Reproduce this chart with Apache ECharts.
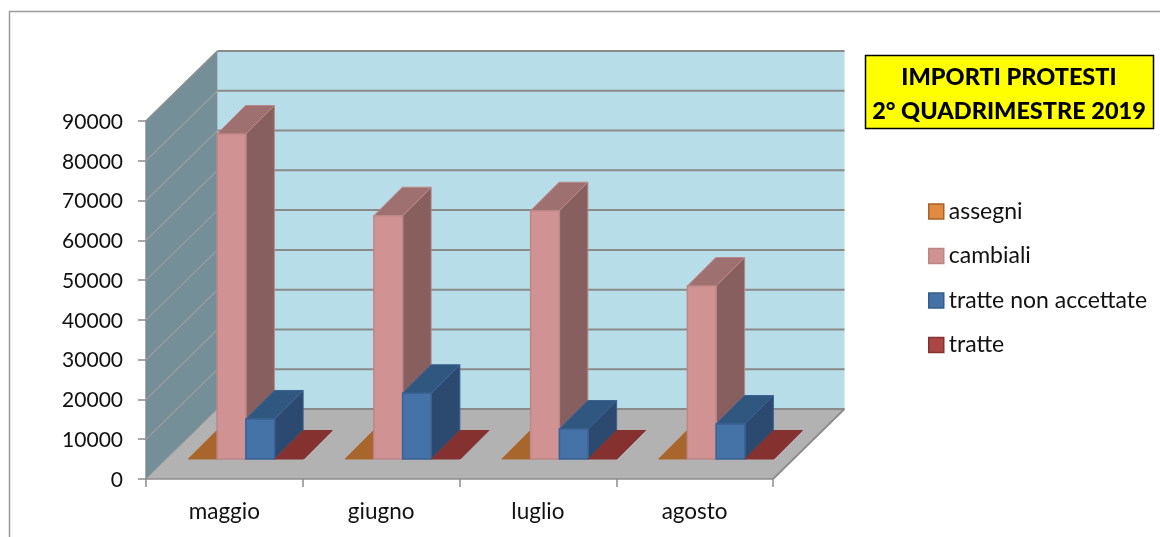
<!DOCTYPE html>
<html><head><meta charset="utf-8">
<style>html,body{margin:0;padding:0;background:#fff}#c{width:1160px;height:537px}</style>
<script src="https://cdn.jsdelivr.net/npm/echarts@6/dist/echarts.min.js"></script></head>
<body><div id="c"></div>
<script>
var categories = ['maggio','giugno','luglio','agosto'];
var assegni = [0,0,0,0];
var cambiali = [81700,61160,62420,43490];
var tratteNonAccettate = [10060,16520,7540,8790];
var tratte = [0,0,0,0];
var axisTicks = [0,10000,20000,30000,40000,50000,60000,70000,80000,90000];
var seriesNames = ['assegni','cambiali','tratte non accettate','tratte'];

var FONT = 'Lato';
var WALL_DX = 71.5, WALL_DY = -70, BAR_OFF_X = 21.5, BAR_OFF_Y = -20, BAR_DEPTH = 28.5;
var styles = [
 {front:'#c77a35',top:'#a9662c',side:'#8a5224',stroke:'#a9662c',legend:'#e08a42',legendB:'#a9622a'},
 {front:'#d09293',top:'#9f7070',side:'#875f5e',stroke:'#bd8787',legend:'#d09293',legendB:'#bd8787'},
 {front:'#4572a7',top:'#30577f',side:'#2c4a70',stroke:'#3a6292',legend:'#4572a7',legendB:'#335f90'},
 {front:'#a84442',top:'#843130',side:'#6e2a28',stroke:'#843130',legend:'#aa4643',legendB:'#843130'}
];
function poly(pts,fill,stroke,w){return {type:'polygon',shape:{points:pts},style:{fill:fill,stroke:stroke||null,lineWidth:w||0}};}
function seg(a,b,col,w){return {type:'line',shape:{x1:a[0],y1:a[1],x2:b[0],y2:b[1]},style:{stroke:col,lineWidth:w}};}

function wallItem(params,api){
  var cs=params.coordSys, L=cs.x, R=cs.x+cs.width, B=cs.y+cs.height, T=cs.y;
  var d=[WALL_DX,WALL_DY], ch=[];
  ch.push(poly([[L+d[0],T+d[1]],[R+d[0],T+d[1]],[R+d[0],B+d[1]],[L+d[0],B+d[1]]],'#b7dde8'));
  ch.push(poly([[L,T],[L+d[0],T+d[1]],[L+d[0],B+d[1]],[L,B]],'#748f97'));
  ch.push(poly([[L,B],[L+d[0],B+d[1]],[R+d[0],B+d[1]],[R,B]],'#b2b2b2'));
  axisTicks.forEach(function(v){
    var y=api.coord([0,v])[1];
    if(v>0) ch.push(seg([L,y],[L+d[0],y+d[1]],'#9c9c9c',1.3));
    ch.push(seg([L+d[0],y+d[1]],[R+d[0],y+d[1]],'#8a8a8a',2));
  });
  ch.push(seg([L,B],[L+d[0],B+d[1]],'#9a9a9a',1));
  ch.push(seg([L,T],[L+d[0],T+d[1]],'#8c8c8c',1.5));
  ch.push(seg([L,B],[R,B],'#8c8c8c',1.5));
  ch.push(seg([R,B],[R+d[0],B+d[1]],'#8c8c8c',1.8));
  return {type:'group',children:ch};
}
function barItem(idx){
  return function(params,api){
    var cat=api.value(0), val=api.value(1), st=styles[idx];
    var band=api.size([1,0])[0], w=band*0.1835;
    var c=api.coord([cat,val]), b=api.coord([cat,0]);
    var x0=c[0]-2*w+idx*w+BAR_OFF_X, x1=x0+w;
    var yTop=c[1]+BAR_OFF_Y, yBot=b[1]+BAR_OFF_Y, D=BAR_DEPTH, ch=[];
    ch.push(poly([[x1,yTop],[x1+D,yTop-D],[x1+D,yBot-D],[x1,yBot]],st.side,st.stroke,1));
    ch.push(poly([[x0,yTop],[x0+D,yTop-D],[x1+D,yTop-D],[x1,yTop]],st.top,st.stroke,1));
    if(val>0) ch.push(poly([[x0,yTop],[x1,yTop],[x1,yBot],[x0,yBot]],st.front,st.stroke,1.5));
    return {type:'group',children:ch};
  };
}
var dataSets=[assegni,cambiali,tratteNonAccettate,tratte];
var series=[{type:'custom',name:'pareti',silent:true,clip:false,z:1,data:[[0,0]],renderItem:wallItem,encode:{x:0,y:1}}];
dataSets.forEach(function(arr,i){
  series.push({type:'custom',name:seriesNames[i],clip:false,z:2+i,
    itemStyle:{color:styles[i].legend},
    data:arr.map(function(v,k){return [k,v];}),renderItem:barItem(i),encode:{x:0,y:1}});
});
var chart=echarts.init(document.getElementById('c'),null,{renderer:'canvas'});
chart.setOption({
  animation:false,backgroundColor:'#fff',
  grid:{left:146,top:121,width:627,height:358,containLabel:false},
  xAxis:{type:'category',data:categories,boundaryGap:true,
    axisLine:{show:false},axisTick:{show:true,alignWithLabel:false,length:8,lineStyle:{color:'#8c8c8c',width:1.5}},
    axisLabel:{color:'#111',fontFamily:FONT,fontSize:22.5,margin:21},splitLine:{show:false}},
  yAxis:{type:'value',min:0,max:90000,interval:10000,
    axisLine:{show:true,lineStyle:{color:'#8c8c8c',width:1.5}},axisTick:{show:true,length:8,lineStyle:{color:'#8c8c8c',width:1.5}},
    axisLabel:{margin:23,
      formatter:function(v){return '{a|'+v+'}';},
      rich:{a:{color:'#111',fontFamily:FONT,fontSize:21,padding:[2,0,0,0]}}},splitLine:{show:false}},
  legend:{orient:'vertical',left:928,top:200,padding:0,itemWidth:15,itemHeight:15,itemGap:21.5,icon:'rect',
    textStyle:{color:'#111',fontFamily:FONT,fontSize:23},selectedMode:false,
    data:seriesNames.map(function(n,i){return {name:n,itemStyle:{color:styles[i].legend,borderColor:styles[i].legendB,borderWidth:1.5}};})},
  graphic:[
    {type:'rect',silent:true,z:0,shape:{x:9.5,y:11.5,width:1200,height:600},style:{fill:'none',stroke:'#9a9a9a',lineWidth:1.5}},
    {type:'rect',silent:true,z:10,shape:{x:865.5,y:55.5,width:288,height:73},style:{fill:'#ffff00',stroke:'#000',lineWidth:1.5}},
    {type:'text',silent:true,z:11,style:{x:1009,y:77,text:'IMPORTI PROTESTI',fill:'#000',font:'900 23.5px Lato',textAlign:'center',textVerticalAlign:'middle'}},
    {type:'text',silent:true,z:11,style:{x:1009,y:111,text:'2° QUADRIMESTRE 2019',fill:'#000',font:'900 23.5px Lato',textAlign:'center',textVerticalAlign:'middle'}}
  ],
  series:series
});
</script></body></html>
